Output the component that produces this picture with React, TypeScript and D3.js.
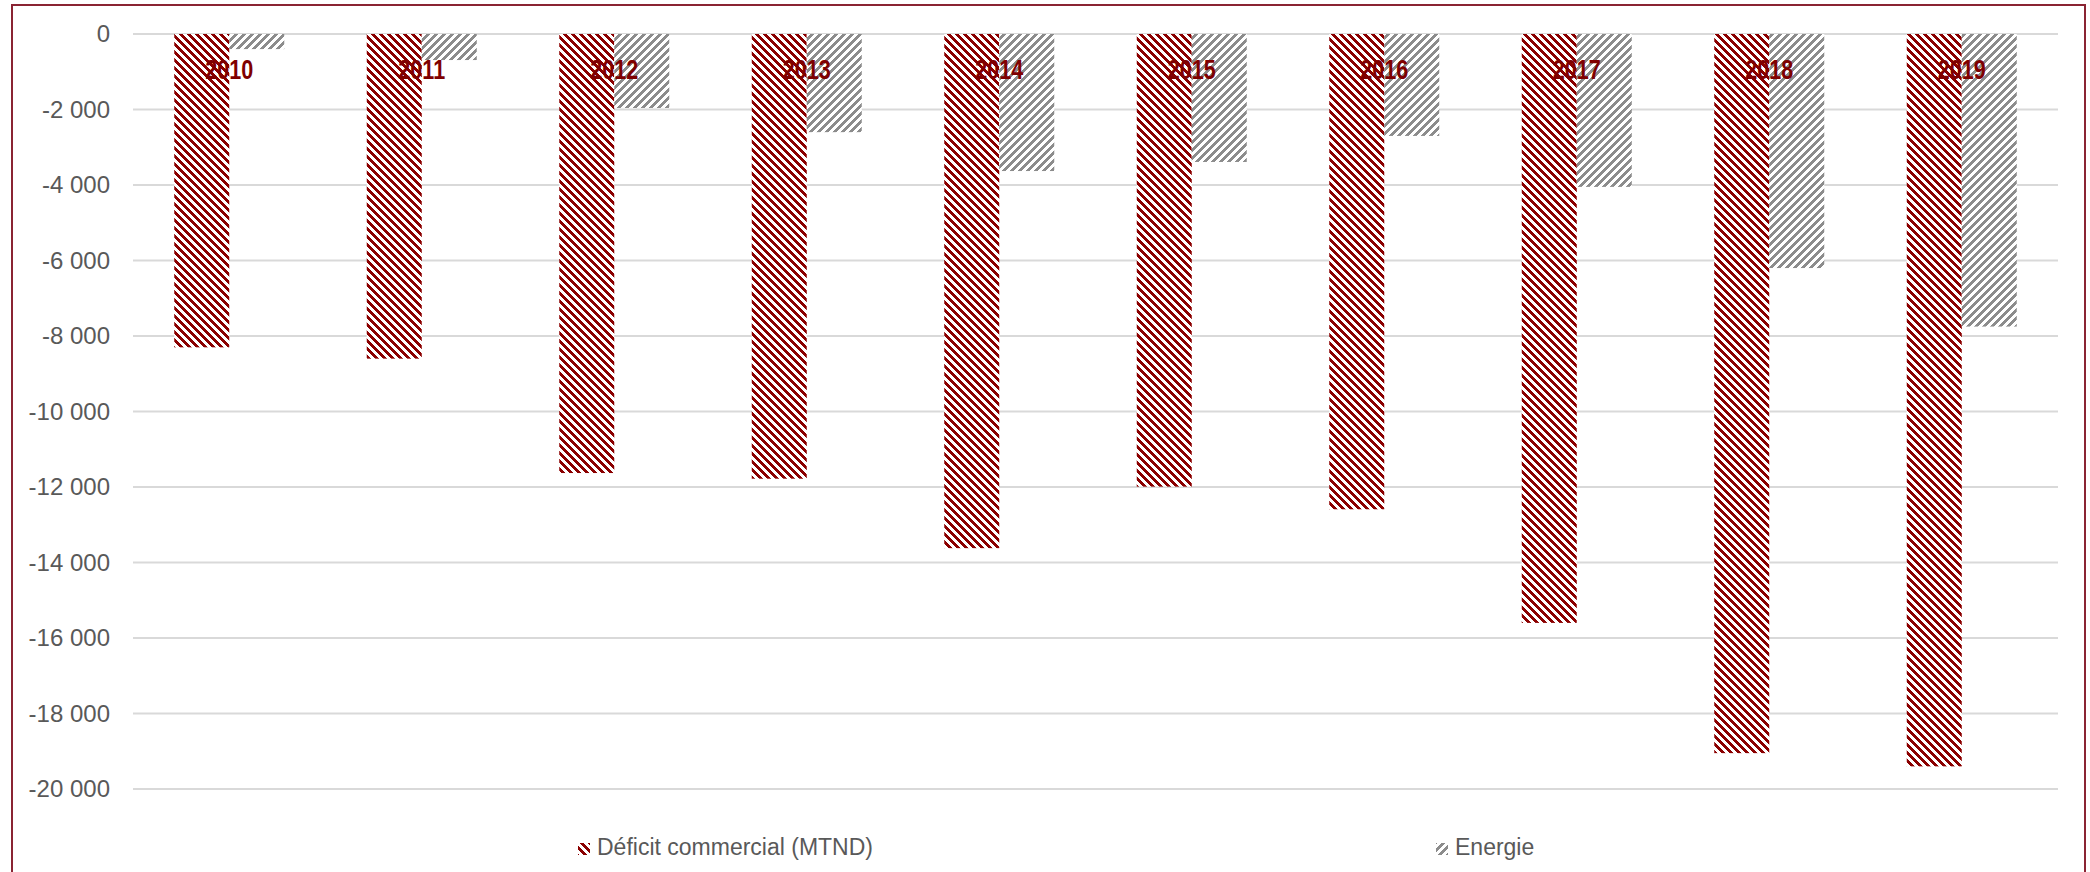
import React from "react";
import * as d3 from "d3";

const years = ["2010", "2011", "2012", "2013", "2014", "2015", "2016", "2017", "2018", "2019"];
const deficit = [-8300, -8600, -11630, -11780, -13620, -11990, -12590, -15600, -19050, -19400];
const energie = [-400, -690, -1960, -2600, -3630, -3390, -2700, -4050, -6200, -7750];
const yTicks = [0, -2000, -4000, -6000, -8000, -10000, -12000, -14000, -16000, -18000, -20000];
const seriesNames = ["Déficit commercial (MTND)", "Energie"];

const W = 2090;
const H = 872;
const plotLeft = 133;
const plotRight = 2058;
const plotTop = 34;
const plotBottom = 789;

const RED = "#8b0000";
const GRAY = "#8c8c8c";
const TXT = "#595959";

const locale = d3.formatLocale({ decimal: ",", thousands: " ", grouping: [3], currency: ["", ""], minus: "-" });
const fmt = locale.format(",d");

export default function App() {
  const x0 = d3.scaleBand<string>().domain(years).range([plotLeft, plotRight]).padding(0);
  const step = x0.step();
  const barW = step / 3.5;
  const x1 = d3
    .scaleBand<string>()
    .domain(["d", "e"])
    .range([(step - 2 * barW) / 2, (step + 2 * barW) / 2])
    .padding(0);
  const y = d3.scaleLinear().domain([-20000, 0]).range([plotBottom, plotTop]);

  const legendX = [578, 1436];

  return (
    <svg
      width={W}
      height={H}
      style={{ position: "absolute", left: 0, top: 0, background: "#fff" }}
      fontFamily="'Liberation Sans', Arial, sans-serif"
    >
      <defs>
        <pattern id="pRed" patternUnits="userSpaceOnUse" width={8} height={8}>
          <rect width={8} height={8} fill="#fff" />
          <path d="M0,0 L4,0 L8,4 L8,8 Z M0,4 L4,8 L0,8 Z" fill={RED} shapeRendering="crispEdges" />
        </pattern>
        <pattern id="pGray" patternUnits="userSpaceOnUse" width={8} height={8}>
          <rect width={8} height={8} fill="#fff" />
          <path d="M8,0 L4,0 L0,4 L0,8 Z M8,4 L4,8 L8,8 Z" fill={GRAY} shapeRendering="crispEdges" />
        </pattern>
      </defs>
      <rect x={0} y={0} width={W} height={H} fill="#fff" />
      <rect x={12} y={5} width={2073} height={H + 20} fill="none" stroke="#8a2433" strokeWidth={2} />

      {yTicks.map((t) => (
        <g key={t}>
          <line x1={plotLeft} x2={plotRight} y1={y(t)} y2={y(t)} stroke="#d9d9d9" strokeWidth={2} />
          <text x={110} y={y(t) + 8} textAnchor="end" fontSize={24} fill={TXT}>
            {fmt(t)}
          </text>
        </g>
      ))}

      {years.map((yr, i) => {
        const bx = x0(yr)!;
        return (
          <g key={yr}>
            <rect
              x={bx + x1("d")!}
              y={y(0)}
              width={x1.bandwidth()}
              height={y(deficit[i]) - y(0)}
              fill="url(#pRed)"
            />
            <rect
              x={bx + x1("e")!}
              y={y(0)}
              width={x1.bandwidth()}
              height={y(energie[i]) - y(0)}
              fill="url(#pGray)"
            />
          </g>
        );
      })}

      {years.map((yr) => (
        <text
          key={"l" + yr}
          transform={`translate(${x0(yr)! + step / 2},79) scale(0.8,1)`}
          textAnchor="middle"
          fontSize={27}
          fontWeight="bold"
          fill="#7f0000"
        >
          {yr}
        </text>
      ))}

      {seriesNames.map((name, i) => (
        <g key={name}>
          <rect x={legendX[i]} y={843} width={12} height={12} fill={i === 0 ? "url(#pRed)" : "url(#pGray)"} />
          <text x={legendX[i] + 19} y={855} fontSize={23} fill={TXT}>
            {name}
          </text>
        </g>
      ))}
    </svg>
  );
}
